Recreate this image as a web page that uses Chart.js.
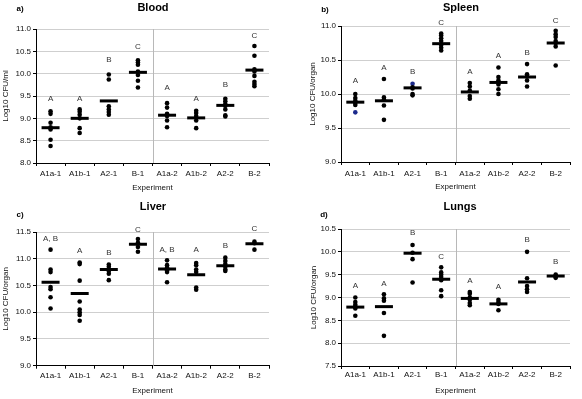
<!DOCTYPE html>
<html>
<head>
<meta charset="utf-8">
<script src="https://cdn.jsdelivr.net/npm/chart.js@4"></script>
<style>
  body { margin: 0; background: #fff; }
  #wrap { position: relative; width: 582px; height: 399px; }
  canvas { position: absolute; }
</style>
</head>
<body>
<div id="wrap">
  <canvas id="blood" width="291" height="200" style="left:0;top:0"></canvas>
  <canvas id="spleen" width="291" height="200" style="left:291px;top:0"></canvas>
  <canvas id="liver" width="291" height="199" style="left:0;top:200px"></canvas>
  <canvas id="lungs" width="291" height="199" style="left:291px;top:200px"></canvas>
</div>
<script>
const categories = ['A1a-1', 'A1b-1', 'A2-1', 'B-1', 'A1a-2', 'A1b-2', 'A2-2', 'B-2'];

// individual animals per group (log10 CFU)
const bloodPoints = [
  [9.16, 9.1, 8.9, 8.8, 8.75, 8.52, 8.38],
  [9.2, 9.15, 9.08, 9.0, 8.78, 8.67],
  [9.98, 9.87, 9.27, 9.2, 9.14, 9.08],
  [10.3, 10.25, 10.2, 10.05, 9.97, 9.84, 9.69],
  [9.34, 9.24, 9.1, 9.05, 8.95, 8.8],
  [9.17, 9.12, 9.05, 8.95, 8.78],
  [9.44, 9.38, 9.32, 9.28, 9.2, 9.07, 9.04],
  [10.62, 10.4, 10.1, 10.05, 9.95, 9.82, 9.77, 9.72]
];
const bloodMeans = [8.79, 9.0, 9.39, 10.03, 9.07, 9.01, 9.29, 10.08];
const bloodLetters = ['A', 'A', 'B', 'C', 'A', 'A', 'B', 'C'];
const bloodLetterY = [9.44, 9.44, 10.32, 10.6, 9.68, 9.44, 9.74, 10.84];

const spleenPoints = [
  [10.0, 9.94, 9.9, 9.87, 9.84, 9.73],
  [10.22, 9.95, 9.92, 9.83, 9.62],
  [10.15, 10.1, 10.08, 10.0, 9.98],
  [10.89, 10.86, 10.82, 10.78, 10.72, 10.68, 10.64],
  [10.16, 10.11, 10.05, 9.97, 9.93],
  [10.39, 10.25, 10.2, 10.14, 10.07, 10.0],
  [10.44, 10.29, 10.26, 10.2, 10.11],
  [10.93, 10.88, 10.84, 10.78, 10.75, 10.7, 10.42]
];
const spleenMeans = [9.88, 9.9, 10.09, 10.74, 10.03, 10.17, 10.25, 10.75];
const spleenLetters = ['A', 'A', 'B', 'C', 'A', 'A', 'B', 'C'];
const spleenLetterY = [10.19, 10.38, 10.33, 11.05, 10.33, 10.56, 10.6, 11.08];
const spleenBlueDots = [{ cat: 0, y: 9.73 }, { cat: 2, y: 10.15 }];

const liverPoints = [
  [11.17, 10.8, 10.75, 10.47, 10.43, 10.28, 10.07],
  [10.93, 10.9, 10.59, 10.2, 10.05, 10.0, 9.95, 9.84],
  [10.89, 10.85, 10.8, 10.77, 10.72, 10.6],
  [11.37, 11.3, 11.22, 11.13],
  [10.97, 10.88, 10.83, 10.78, 10.75, 10.56],
  [10.92, 10.88, 10.8, 10.75, 10.46, 10.42],
  [11.02, 10.96, 10.9, 10.85, 10.8, 10.77],
  [11.32, 11.29, 11.17]
];
const liverMeans = [10.56, 10.35, 10.8, 11.27, 10.81, 10.7, 10.87, 11.28];
const liverLetters = ['A, B', 'A', 'B', 'C', 'A, B', 'A', 'B', 'C'];
const liverLetterY = [11.37, 11.14, 11.11, 11.54, 11.16, 11.16, 11.24, 11.56];

const lungsPoints = [
  [9.0, 8.9, 8.84, 8.8, 8.76, 8.6],
  [9.07, 8.98, 8.93, 8.66, 8.16],
  [10.15, 9.98, 9.84, 9.33],
  [9.66, 9.55, 9.5, 9.45, 9.38, 9.16, 9.03],
  [9.12, 9.08, 9.0, 8.95, 8.88, 8.83],
  [8.95, 8.9, 8.86, 8.72],
  [10.0, 9.42, 9.25, 9.18, 9.12],
  [9.5, 9.48, 9.45, 9.43]
];
const lungsMeans = [8.79, 8.8, 9.97, 9.4, 8.98, 8.86, 9.34, 9.47];
const lungsLetters = ['A', 'A', 'B', 'C', 'A', 'A', 'B', 'B'];
const lungsLetterY = [9.26, 9.3, 10.41, 9.9, 9.36, 9.23, 10.26, 9.79];

const FONT = "'Liberation Sans', Arial, sans-serif";
Chart.defaults.font.family = FONT;
Chart.defaults.color = '#111';

// letters above groups + divider between experiment 1 and 2 + panel heading
const decorPlugin = {
  id: 'decor',
  beforeDatasetsDraw(chart) {
    const { ctx, chartArea, scales: { x } } = chart;
    const xm = (x.getPixelForValue(3) + x.getPixelForValue(4)) / 2;
    ctx.save();
    ctx.strokeStyle = '#b8b8b8';
    ctx.lineWidth = 1;
    ctx.beginPath();
    ctx.moveTo(Math.round(xm) + 0.5, chartArea.top);
    ctx.lineTo(Math.round(xm) + 0.5, chartArea.bottom);
    ctx.stroke();
    ctx.restore();
  },
  afterDatasetsDraw(chart, args, opts) {
    const { ctx, scales: { x, y } } = chart;
    ctx.save();
    ctx.fillStyle = '#333';
    ctx.font = '8px ' + FONT;
    ctx.textAlign = 'center';
    ctx.textBaseline = 'middle';
    opts.letters.forEach((t, i) => {
      ctx.fillText(t, x.getPixelForValue(i), y.getPixelForValue(opts.letterY[i]));
    });
    ctx.fillStyle = '#000';
    ctx.font = 'bold 11px ' + FONT;
    ctx.fillText(opts.title, opts.titlePos[0], opts.titlePos[1]);
    ctx.font = 'bold 8px ' + FONT;
    ctx.fillText(opts.tag, opts.tagPos[0], opts.tagPos[1]);
    ctx.restore();
  }
};

function makePanel(id, p) {
  const dots = [];
  p.points.forEach((vals, i) => vals.forEach(v => dots.push({ x: categories[i], y: v })));
  const means = p.means.map((m, i) => ({ x: categories[i], y: m }));
  const blue = p.blue || [];

  new Chart(document.getElementById(id), {
    type: 'line',
    data: {
      labels: categories,
      datasets: [{
        data: dots,
        showLine: false,
        pointRadius: 2.3,
        pointBorderWidth: 0,
        pointBackgroundColor: ctx => {
          const r = ctx.raw;
          if (r && blue.some(b => categories[b.cat] === r.x && b.y === r.y)) return '#1c2a8c';
          return '#000';
        }
      }, {
        data: means,
        showLine: false,
        pointStyle: 'line',
        pointRadius: 9,
        pointBorderWidth: 3,
        pointBorderColor: '#000'
      }]
    },
    options: {
      responsive: false,
      animation: false,
      events: [],
      layout: { padding: p.pad },
      plugins: {
        legend: { display: false },
        tooltip: { enabled: false },
        decor: { letters: p.letters, letterY: p.letterY, title: p.title, titlePos: p.titlePos, tag: p.tag, tagPos: p.tagPos }
      },
      scales: {
        x: {
          type: 'category',
          offset: true,
          afterFit: s => { s.height = p.xHeight; },
          grid: { offset: true, drawOnChartArea: false, tickLength: 3, color: '#000' },
          border: { color: '#000', width: 1 },
          ticks: { font: { size: 8 }, padding: p.xTickPad, color: '#111', maxRotation: 0 },
          title: { display: true, text: 'Experiment', font: { size: 8 }, color: '#111', padding: { top: 0, bottom: p.xTitlePad } }
        },
        y: {
          min: p.min,
          max: p.max,
          afterFit: s => { s.width = p.yWidth; },
          grid: { color: '#cfcfcf', tickColor: '#000', tickLength: 3 },
          border: { color: '#000', width: 1 },
          ticks: { stepSize: 0.5, font: { size: 8 }, padding: 2, color: '#111', callback: v => v.toFixed(1) },
          title: { display: true, text: p.yTitle, font: { size: 8 }, color: '#111', padding: { top: p.yTitlePad, bottom: 0 } }
        }
      }
    },
    plugins: [decorPlugin]
  });
}

makePanel('blood', {
  points: bloodPoints, means: bloodMeans, letters: bloodLetters, letterY: bloodLetterY,
  min: 8, max: 11, yTitle: 'Log10 CFU/ml', title: 'Blood', titlePos: [153, 8], tag: 'a)', tagPos: [20, 9],
  pad: { top: 29, right: 22, left: 0, bottom: 0 }, yWidth: 36, xHeight: 37, yTitlePad: 1.2, xTickPad: 3, xTitlePad: 7
});
makePanel('spleen', {
  points: spleenPoints, means: spleenMeans, letters: spleenLetters, letterY: spleenLetterY, blue: spleenBlueDots,
  min: 9, max: 11, yTitle: 'Log10 CFU/organ', title: 'Spleen', titlePos: [170, 8], tag: 'b)', tagPos: [34, 10],
  pad: { top: 26, right: 4, left: 0, bottom: 0 }, yWidth: 50, xHeight: 38, yTitlePad: 17, xTickPad: 4, xTitlePad: 8
});
makePanel('liver', {
  points: liverPoints, means: liverMeans, letters: liverLetters, letterY: liverLetterY,
  min: 9, max: 11.5, yTitle: 'Log10 CFU/organ', title: 'Liver', titlePos: [153, 7], tag: 'c)', tagPos: [20, 15],
  pad: { top: 32, right: 22, left: 0, bottom: 0 }, yWidth: 36, xHeight: 33.3, yTitlePad: 1.2, xTickPad: 2, xTitlePad: 3.5
});
makePanel('lungs', {
  points: lungsPoints, means: lungsMeans, letters: lungsLetters, letterY: lungsLetterY,
  min: 7.5, max: 10.5, yTitle: 'Log10 CFU/organ', title: 'Lungs', titlePos: [169, 7], tag: 'd)', tagPos: [33, 15],
  pad: { top: 29, right: 6, left: 0, bottom: 0 }, yWidth: 50, xHeight: 33, yTitlePad: 18, xTickPad: 0.5, xTitlePad: 3
});
</script>
</body>
</html>
